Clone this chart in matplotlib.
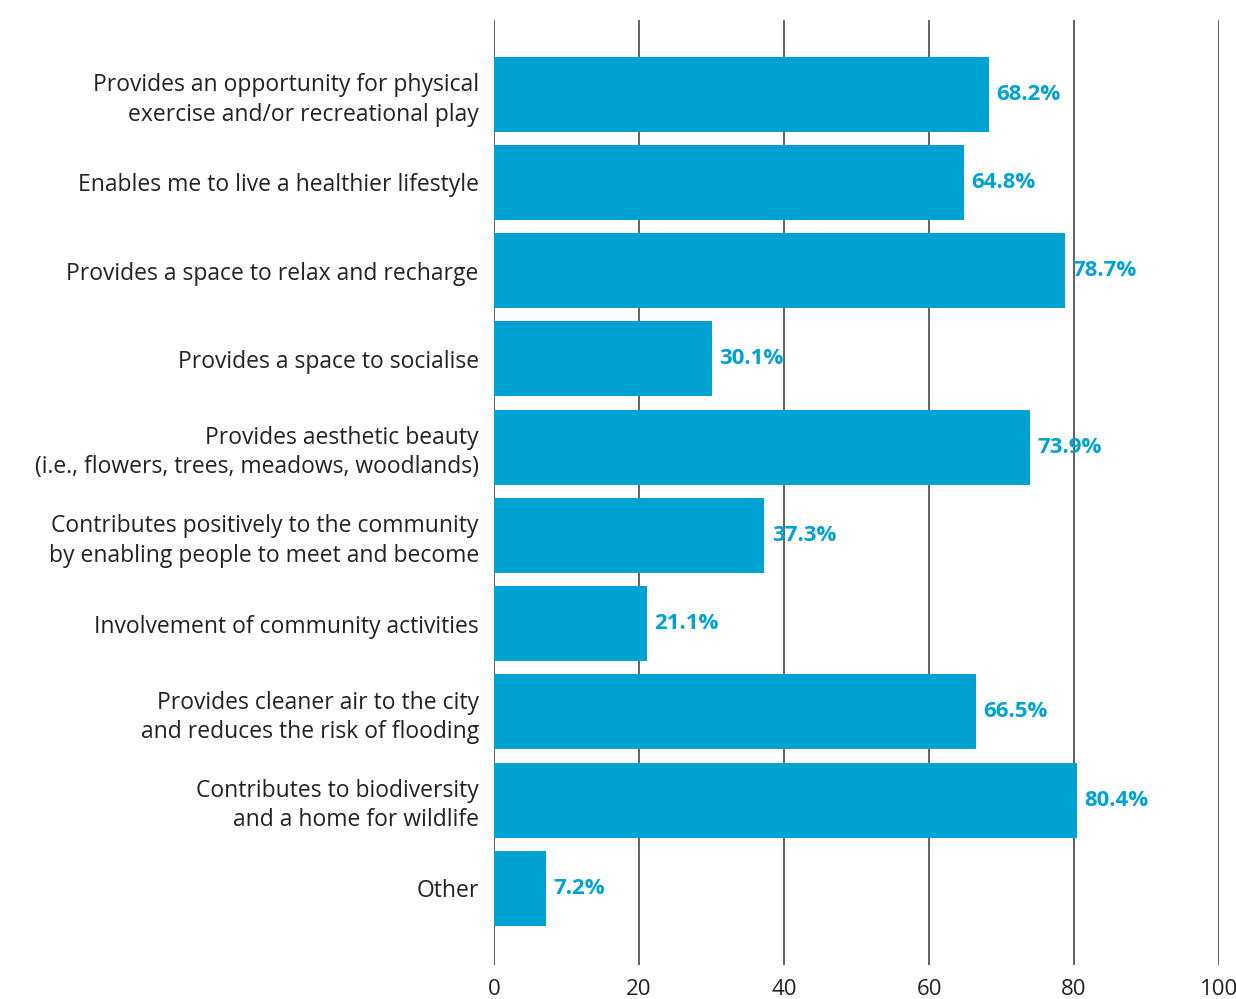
import numpy as np
import matplotlib.pyplot as plt

plt.rcParams['font.family'] = ['Open Sans', 'DejaVu Sans']

categories = [
    'Provides an opportunity for physical\nexercise and/or recreational play',
    'Enables me to live a healthier lifestyle',
    'Provides a space to relax and recharge',
    'Provides a space to socialise',
    'Provides aesthetic beauty\n(i.e., flowers, trees, meadows, woodlands)',
    'Contributes positively to the community\nby enabling people to meet and become',
    'Involvement of community activities',
    'Provides cleaner air to the city\nand reduces the risk of flooding',
    'Contributes to biodiversity\nand a home for wildlife',
    'Other',
]
values = [68.2, 64.8, 78.7, 30.1, 73.9, 37.3, 21.1, 66.5, 80.4, 7.2]
xticks = [0, 20, 40, 60, 80, 100]

blue = '#00a2d1'

fig = plt.figure(figsize=(12.36, 9.99), dpi=100)
ax = fig.add_axes([0.3997, 0.034, 0.5866, 0.946])

y = np.arange(len(categories))
ax.barh(y, values, height=0.85, color=blue, zorder=2)
for yi, v in zip(y, values):
    ax.text(v + 1.0, yi, f'{v}%', va='center', ha='left', color=blue,
            fontsize=16, fontweight='bold', zorder=3)

ax.set_xlim(0, 100)
ax.set_ylim(len(categories) - 1 + 0.87, -0.84)
ax.set_xticks(xticks)
ax.set_yticks(y)
ax.set_yticklabels(categories, fontsize=16.5, color='#222222', linespacing=1.3)
ax.tick_params(axis='y', length=0, pad=11)
ax.tick_params(axis='x', length=0, pad=10, labelsize=16, labelcolor='#222222')
for s in ax.spines.values():
    s.set_visible(False)
ax.xaxis.grid(True, color='#555555', linewidth=1.3, zorder=0)
ax.set_axisbelow(True)

fig.savefig('out.png', dpi=100)
